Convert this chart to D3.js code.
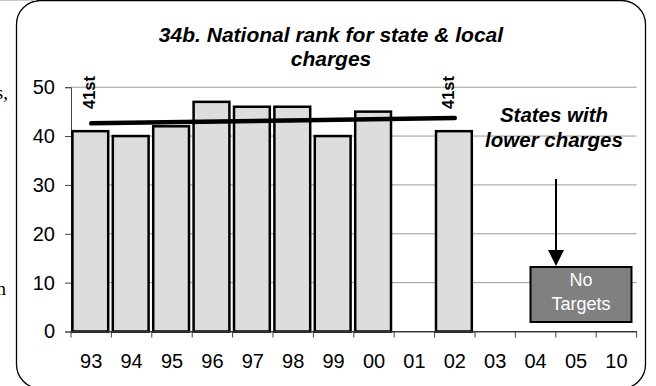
<!DOCTYPE html>
<html><head><meta charset="utf-8">
<script src="https://cdn.jsdelivr.net/npm/d3@7"></script>
<style>body{margin:0;background:#fff}svg{display:block}</style>
</head><body><svg id="c" width="656" height="386"></svg>
<script>
const categories = ["93","94","95","96","97","98","99","00","01","02","03","04","05","10"];
const rankValues = [41, 40, 42, 47, 46, 46, 40, 45, null, 41, null, null, null, null];
const trendCategories = ["93","02"];
const trendValues = [42.6, 43.7];
const yTicks = [0, 10, 20, 30, 40, 50];
const rankLabels = [{cat:"93", text:"41st"}, {cat:"02", text:"41st"}];
const titleLines = ["34b. National rank for state & local", "charges"];
const noteLines = ["States with", "lower charges"];
const boxLines = ["No", "Targets"];

const svg = d3.select("#c");
const F = "Arial, 'Liberation Sans', Helvetica, sans-serif";
const M = {left:71, right:636.6, top:87.2, bottom:331.5};

const x = d3.scaleBand().domain(categories).range([M.left, M.right]).padding(0);
const y = d3.scaleLinear().domain([0, 50]).range([M.bottom, M.top]);

// outer rounded frame
svg.append("rect").attr("x",16.5).attr("y",0.5).attr("width",629).attr("height",388)
  .attr("rx",24).attr("fill","none").attr("stroke","#000").attr("stroke-width",1.3);
svg.append("line").attr("x1",0).attr("x2",36).attr("y1",0.5).attr("y2",0.5)
  .attr("stroke","#ccc").attr("stroke-width",1);

// cut-off neighbouring text at left
svg.append("text").attr("x",8).attr("y",99).attr("text-anchor","end")
  .style("font-family","'Liberation Serif','Times New Roman',serif").style("font-size","19px").text("s,");
svg.append("text").attr("x",6).attr("y",295).attr("text-anchor","end")
  .style("font-family","'Liberation Serif','Times New Roman',serif").style("font-size","19px").text("n");

// gridlines
svg.append("g").selectAll("line").data(yTicks.filter(d=>d>0)).join("line")
  .attr("x1",M.left).attr("x2",M.right).attr("y1",d=>y(d)).attr("y2",d=>y(d))
  .attr("stroke","#9a9a9a").attr("stroke-width",1);

// y axis
const yAxis = svg.append("g").attr("transform",`translate(${M.left},0)`)
  .call(d3.axisLeft(y).tickValues(yTicks).tickSize(6).tickPadding(10).tickFormat(d3.format("d")));
yAxis.select(".domain").attr("stroke","#444");
yAxis.selectAll(".tick line").attr("stroke","#444");
yAxis.selectAll("text").style("font-family",F).style("font-size","20px").attr("fill","#000");

// x axis
const xAxis = svg.append("g").attr("transform",`translate(0,${M.bottom})`)
  .call(d3.axisBottom(x).tickSize(0).tickPadding(22));
xAxis.select(".domain").attr("stroke","#444");
xAxis.selectAll("text").style("font-family",F).style("font-size","20px").attr("fill","#000");
// boundary ticks
const bounds = categories.map(c=>x(c)).concat([M.right]);
svg.append("g").selectAll("line").data(bounds).join("line")
  .attr("x1",d=>d).attr("x2",d=>d).attr("y1",M.bottom).attr("y2",M.bottom+6)
  .attr("stroke","#444").attr("stroke-width",1);

// bars
const barData = categories.map((c,i)=>({c, v:rankValues[i]})).filter(d=>d.v!=null);
svg.append("g").selectAll("rect").data(barData).join("rect")
  .attr("x",d=>x(d.c)+1.4).attr("width",x.bandwidth()-4.6)
  .attr("y",d=>y(d.v)).attr("height",d=>y(0)-y(d.v))
  .attr("fill","#dddddd").attr("stroke","#000").attr("stroke-width",2.5);

// baseline
svg.append("line").attr("x1",M.left).attr("x2",M.right).attr("y1",M.bottom).attr("y2",M.bottom)
  .attr("stroke","#333").attr("stroke-width",1);

// trend line
const trend = trendCategories.map((c,i)=>[x(c)+x.bandwidth()/2, y(trendValues[i])]);
svg.append("path").attr("d", d3.line()(trend)).attr("stroke","#000")
  .attr("stroke-width",4.5).attr("stroke-linecap","round").attr("fill","none");

// rank labels (rotated)
const offs = [-1.5, -6];
rankLabels.forEach((r,i)=>{
  const cx = x(r.cat)+x.bandwidth()/2 + offs[i];
  svg.append("text").attr("transform",`translate(${cx+5.5},109) rotate(-90)`)
    .style("font-family",F).style("font-size","16.5px").style("font-weight","bold").text(r.text);
});

// title
svg.append("g").selectAll("text").data(titleLines).join("text")
  .attr("x",331).attr("y",(d,i)=>42+i*24).attr("text-anchor","middle")
  .style("font-family",F).style("font-size","21px").style("font-weight","bold").style("font-style","italic")
  .text(d=>d);

// note
svg.append("g").selectAll("text").data(noteLines).join("text")
  .attr("x",554).attr("y",(d,i)=>122+i*25).attr("text-anchor","middle")
  .style("font-family",F).style("font-size","20.5px").style("font-weight","bold").style("font-style","italic")
  .text(d=>d);

// arrow
const ax = 556;
svg.append("line").attr("x1",ax).attr("x2",ax).attr("y1",179).attr("y2",252)
  .attr("stroke","#000").attr("stroke-width",2);
svg.append("path").attr("d",`M${ax-8},250 L${ax+8},250 L${ax},266 Z`).attr("fill","#000");

// No Targets box
svg.append("rect").attr("x",530.5).attr("y",267).attr("width",101).attr("height",55)
  .attr("fill","#808080").attr("stroke","#000").attr("stroke-width",2);
svg.append("g").selectAll("text").data(boxLines).join("text")
  .attr("x",581).attr("y",(d,i)=>286+i*24).attr("text-anchor","middle")
  .style("font-family",F).style("font-size","18px").attr("fill","#fff").text(d=>d);
</script></body></html>
